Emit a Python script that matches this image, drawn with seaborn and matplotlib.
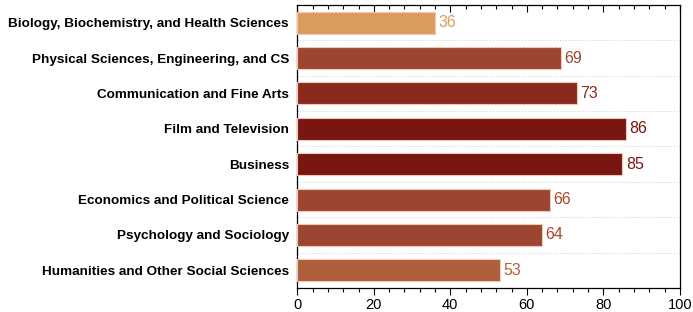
import pandas as pd
import numpy as np
import matplotlib.pyplot as plt
import seaborn as sns
from matplotlib.ticker import MultipleLocator

sns.set_theme(style="white")
plt.rcParams["font.family"] = ["Liberation Sans", "DejaVu Sans"]

# data
fields = [
    "Biology, Biochemistry, and Health Sciences",
    "Physical Sciences, Engineering, and CS",
    "Communication and Fine Arts",
    "Film and Television",
    "Business",
    "Economics and Political Science",
    "Psychology and Sociology",
    "Humanities and Other Social Sciences",
]
scores = [36, 69, 73, 86, 85, 66, 64, 53]
bar_colors = ["#D99C5D", "#9C4530", "#8A2A1F", "#7A1611", "#7A1611",
              "#9C4530", "#9C4530", "#AF5E3B"]
label_colors = ["#D99C5D", "#9C4530", "#8A2A1F", "#7A1611", "#7A1611",
                "#A8482F", "#A8482F", "#B5603B"]

df = pd.DataFrame({"Field": fields, "Score": scores})

fig, ax = plt.subplots(figsize=(6.93, 3.12), dpi=100)
fig.subplots_adjust(left=0.429, right=0.981, top=0.984, bottom=0.077)

sns.barplot(data=df, x="Score", y="Field", hue="Field", palette=bar_colors,
            saturation=1, legend=False, width=0.62, edgecolor="#F0C8B8",
            linewidth=0.8, ax=ax, zorder=3)

for i, (v, c) in enumerate(zip(scores, label_colors)):
    ax.text(v + 0.9, i, str(v), va="center", ha="left", fontsize=11.5, color=c)

ax.set_xlim(0, 100)
ax.set_ylim(7.5, -0.5)
ax.set_xlabel("")
ax.set_ylabel("")
ax.xaxis.set_major_locator(MultipleLocator(20))
ax.xaxis.set_minor_locator(MultipleLocator(4))
ax.tick_params(axis="x", which="major", direction="out", length=5, width=0.8,
               color="black", labelcolor="black", labelsize=10.5, pad=2,
               bottom=True)
ax.tick_params(axis="x", which="minor", direction="out", length=3, width=0.8,
               color="black", bottom=True)
ax.tick_params(axis="y", which="both", length=0, labelsize=9.7, pad=6,
               labelcolor="black")
for lab in ax.get_yticklabels():
    lab.set_fontweight("bold")

# dotted separators between bars
ax.yaxis.set_minor_locator(MultipleLocator(1, offset=0.5))
ax.grid(False)
ax.grid(axis="y", which="minor", linestyle=(0, (1, 2)), color="#CCCCCC",
        linewidth=0.7, zorder=0)

for s in ax.spines.values():
    s.set_visible(True)
    s.set_color("black")
    s.set_linewidth(0.9)

# top ticks pointing inward
top = ax.secondary_xaxis("top")
top.xaxis.set_major_locator(MultipleLocator(20))
top.xaxis.set_minor_locator(MultipleLocator(4))
top.tick_params(axis="x", which="major", direction="in", length=5, width=0.8,
                labeltop=False, color="black")
top.tick_params(axis="x", which="minor", direction="in", length=3, width=0.8,
                color="black")
top.spines["top"].set_visible(False)

fig.savefig("out.png", dpi=100)
